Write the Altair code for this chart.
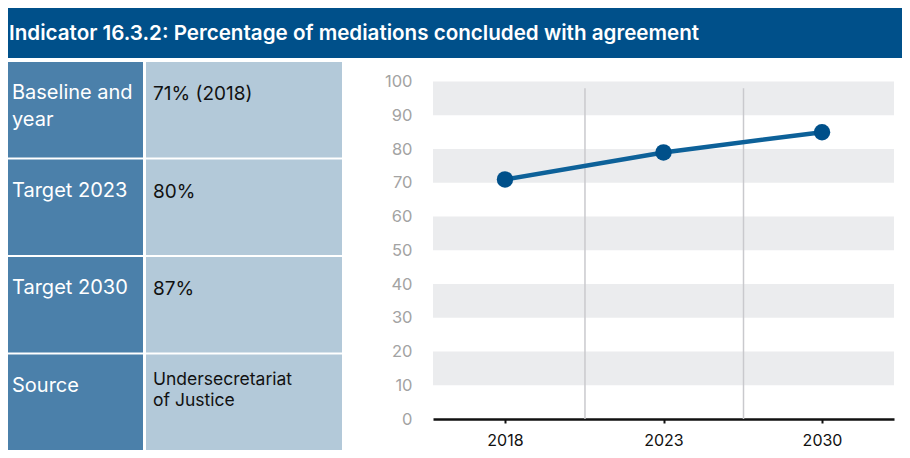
import altair as alt
import pandas as pd

# ---- data ----
TITLE = "Indicator 16.3.2: Percentage of mediations concluded with agreement"
ROW_LABELS = ["Baseline and\nyear", "Target 2023", "Target 2030", "Source"]
ROW_VALUES = ["71% (2018)", "80%", "87%", "Undersecretariat\nof Justice"]
YEARS = ["2018", "2023", "2030"]
VALUES = [71, 79, 85]
Y_TICKS = [0, 10, 20, 30, 40, 50, 60, 70, 80, 90, 100]
BAND_LO = [10, 30, 50, 70, 90]
BAND_HI = [20, 40, 60, 80, 100]
GRID_AFTER = ["2018", "2023"]

# ---- styles ----
FONT = "Inter"
HEADER_BLUE = "#00508a"
LEFT_BLUE = "#4b80aa"
RIGHT_BLUE = "#b3c9d9"
BAND_GRAY = "#ebecee"
LINE_BLUE = "#0d6199"
POINT_BLUE = "#00508a"

HEAD_W, HEAD_H = 894, 50
TABLE_W, TABLE_H = 334, 388
PLOT_W, PLOT_H = 461, 357

# ---- header ----
head_df = pd.DataFrame({"t": [TITLE]})
head_rect = alt.Chart(head_df).mark_rect(color=HEADER_BLUE).encode(
    x=alt.value(0), x2=alt.value(HEAD_W), y=alt.value(0), y2=alt.value(HEAD_H)
)
head_text = alt.Chart(head_df).mark_text(
    align="left", baseline="middle", font=FONT, fontSize=20.6, fontWeight=600, color="white"
).encode(x=alt.value(1), y=alt.value(26), text="t:N")
header = alt.layer(head_rect, head_text).properties(width=HEAD_W, height=HEAD_H)

# ---- table ----
table_df = pd.DataFrame({"label": ROW_LABELS, "value": ROW_VALUES})
row_scale = alt.Scale(domain=ROW_LABELS, paddingInner=0.0206, paddingOuter=0)
y_row = alt.Y("label:N", scale=row_scale, axis=None)
y_row_top = alt.Y("label:N", scale=row_scale, axis=None, bandPosition=0)

left_cells = alt.Chart(table_df).mark_rect(color=LEFT_BLUE).encode(
    y=y_row, x=alt.value(0), x2=alt.value(135)
)
right_cells = alt.Chart(table_df).mark_rect(color=RIGHT_BLUE).encode(
    y=y_row, x=alt.value(138), x2=alt.value(TABLE_W)
)
left_text = alt.Chart(table_df).mark_text(
    align="left", baseline="alphabetic", dy=37, font=FONT, fontSize=20,
    color="white", lineBreak="\n", lineHeight=27
).encode(y=y_row_top, x=alt.value(4), text="label:N")
value_text = alt.Chart(table_df).transform_filter(
    alt.datum.label != "Source"
).mark_text(
    align="left", baseline="alphabetic", dy=38, font=FONT, fontSize=19, color="#111111"
).encode(y=y_row_top, x=alt.value(145), text="value:N")
source_text = alt.Chart(table_df).transform_filter(
    alt.datum.label == "Source"
).mark_text(
    align="left", baseline="alphabetic", dy=30, font=FONT, fontSize=17.5,
    color="#111111", lineBreak="\n", lineHeight=21
).encode(y=y_row_top, x=alt.value(145), text="value:N")
table = alt.layer(left_cells, right_cells, left_text, value_text, source_text).properties(
    width=TABLE_W, height=TABLE_H
)

# ---- line chart ----
x_scale = alt.Scale(type="point", domain=YEARS, padding=0.454)
y_scale = alt.Scale(domain=[0, 105.8], nice=False, zero=True)
x_axis = alt.Axis(
    title=None, labelAngle=0, labelFont=FONT, labelFontSize=16, labelColor="#111111",
    labelPadding=9, domainColor="#111111", domainWidth=2.5, tickColor="#111111",
    tickSize=4, tickWidth=2, grid=False
)
y_axis = alt.Axis(
    title=None, values=Y_TICKS, labelFont=FONT, labelFontSize=16.5, labelColor="#a3a3a3",
    labelPadding=21, labelOverlap=False, domain=False, ticks=False, grid=False,
    minExtent=81, maxExtent=81
)

band_df = pd.DataFrame({"lo": BAND_LO, "hi": BAND_HI})
bands = alt.Chart(band_df).mark_rect(color=BAND_GRAY).encode(
    x=alt.value(0), x2=alt.value(PLOT_W),
    y=alt.Y("lo:Q", scale=y_scale, axis=y_axis), y2="hi:Q"
)
grid_df = pd.DataFrame({"year": GRID_AFTER})
vrules = alt.Chart(grid_df).mark_rule(color="#c9c9cd", strokeWidth=1.5, xOffset=80).encode(
    x=alt.X("year:N", scale=x_scale, axis=x_axis),
    y=alt.YDatum(98, scale=y_scale, axis=y_axis), y2=alt.Y2Datum(0)
)
line_df = pd.DataFrame({"year": YEARS, "value": VALUES})
line = alt.Chart(line_df).mark_line(color=LINE_BLUE, strokeWidth=4.5).encode(
    x=alt.X("year:N", scale=x_scale, axis=x_axis),
    y=alt.Y("value:Q", scale=y_scale, axis=y_axis)
)
points = alt.Chart(line_df).mark_point(filled=True, size=270, color=POINT_BLUE, opacity=1).encode(
    x=alt.X("year:N", scale=x_scale, axis=x_axis),
    y=alt.Y("value:Q", scale=y_scale, axis=y_axis)
)
line_chart = alt.layer(bands, vrules, line, points).properties(width=PLOT_W, height=PLOT_H)

body = alt.hconcat(table, line_chart, spacing=10)
chart = (
    alt.vconcat(header, body, spacing=4)
    .properties(padding=0)
    .configure_view(stroke=None)
    .configure_axisY(labelOverlap=False)
)

chart.save("out.html", embed_options={"renderer": "svg", "actions": False})
